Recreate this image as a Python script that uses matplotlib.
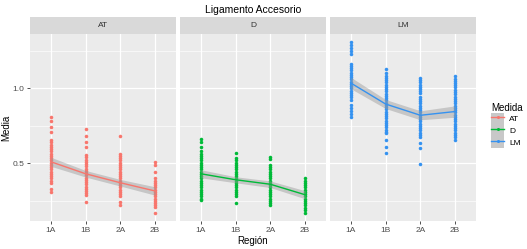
import matplotlib
matplotlib.use("Agg")
import matplotlib.pyplot as plt
from matplotlib.lines import Line2D
from matplotlib.patches import Patch
from matplotlib.legend_handler import HandlerTuple

plt.rcParams['font.family'] = ['Liberation Sans', 'DejaVu Sans']

# data
regions = ['1A', '1B', '2A', '2B']
medidas = ['AT', 'D', 'LM']
colors = ['#F8766D', '#00BA38', '#3592F0']

at_points = [
    [0.81, 0.78, 0.74, 0.71, 0.655, 0.64, 0.625, 0.61, 0.595, 0.58, 0.565, 0.55, 0.535, 0.52,
     0.505, 0.49, 0.475, 0.46, 0.445, 0.43, 0.415, 0.40, 0.385, 0.37, 0.33, 0.31],
    [0.73, 0.68, 0.645, 0.61, 0.555, 0.54, 0.525, 0.51, 0.495, 0.48, 0.465, 0.45, 0.435, 0.42,
     0.405, 0.39, 0.375, 0.36, 0.345, 0.33, 0.315, 0.30, 0.29, 0.245],
    [0.68, 0.565, 0.55, 0.535, 0.52, 0.505, 0.49, 0.475, 0.46, 0.445, 0.43, 0.415, 0.40, 0.385,
     0.37, 0.355, 0.34, 0.325, 0.31, 0.295, 0.28, 0.245, 0.22],
    [0.51, 0.49, 0.445, 0.40, 0.385, 0.37, 0.355, 0.34, 0.325, 0.31, 0.295, 0.28, 0.265, 0.25,
     0.235, 0.22, 0.21, 0.17],
]
d_points = [
    [0.665, 0.645, 0.61, 0.58, 0.565, 0.55, 0.535, 0.52, 0.505, 0.49, 0.475, 0.46, 0.445, 0.43,
     0.415, 0.40, 0.385, 0.37, 0.355, 0.34, 0.325, 0.31, 0.295, 0.28, 0.265, 0.255],
    [0.57, 0.535, 0.52, 0.505, 0.49, 0.475, 0.46, 0.445, 0.43, 0.415, 0.40, 0.385, 0.37, 0.355,
     0.34, 0.325, 0.31, 0.295, 0.28, 0.235],
    [0.545, 0.53, 0.49, 0.475, 0.46, 0.445, 0.43, 0.415, 0.40, 0.385, 0.37, 0.355, 0.34, 0.325,
     0.31, 0.295, 0.28, 0.265, 0.25, 0.235, 0.22],
    [0.40, 0.385, 0.37, 0.355, 0.34, 0.325, 0.31, 0.295, 0.28, 0.265, 0.25, 0.235, 0.22, 0.205,
     0.19, 0.17],
]
lm_points = [
    [1.31, 1.29, 1.27, 1.25, 1.23, 1.165, 1.15, 1.135, 1.12, 1.105, 1.09, 1.075, 1.06, 1.045,
     1.03, 1.015, 1.0, 0.985, 0.97, 0.955, 0.94, 0.92, 0.89, 0.87, 0.85, 0.83, 0.81],
    [1.13, 1.10, 1.085, 1.07, 1.055, 1.04, 1.025, 1.01, 0.995, 0.98, 0.965, 0.95, 0.935, 0.92,
     0.905, 0.89, 0.875, 0.86, 0.845, 0.83, 0.815, 0.80, 0.785, 0.77, 0.755, 0.74, 0.725, 0.71,
     0.70, 0.655, 0.61, 0.567],
    [1.07, 1.055, 1.04, 1.025, 1.01, 0.995, 0.98, 0.967, 0.944, 0.93, 0.915, 0.90, 0.885, 0.87,
     0.855, 0.84, 0.825, 0.81, 0.795, 0.78, 0.765, 0.75, 0.735, 0.72, 0.705, 0.69, 0.678, 0.633,
     0.60, 0.493],
    [1.08, 1.065, 1.05, 1.035, 1.02, 1.01, 0.99, 0.975, 0.96, 0.945, 0.93, 0.915, 0.90, 0.885,
     0.87, 0.855, 0.84, 0.825, 0.81, 0.795, 0.78, 0.765, 0.75, 0.735, 0.72, 0.705, 0.69, 0.675,
     0.655],
]

# smooth fit and half-width of confidence band at each region
at_fit = [0.51, 0.43, 0.37, 0.315]
at_se = [0.03, 0.022, 0.022, 0.028]
d_fit = [0.43, 0.39, 0.36, 0.29]
d_se = [0.027, 0.02, 0.022, 0.027]
lm_fit = [1.035, 0.895, 0.82, 0.845]
lm_se = [0.038, 0.03, 0.03, 0.038]

all_points = [at_points, d_points, lm_points]
all_fit = [at_fit, d_fit, lm_fit]
all_se = [at_se, d_se, lm_se]

W, H = 527, 249
fig = plt.figure(figsize=(W / 100, H / 100), dpi=100)
fig.patch.set_facecolor('white')

panel_left = [30, 180, 330]
panel_w = 146
y_top, y_bot = 34, 221
strip_top = 17

x = list(range(len(regions)))
for i, name in enumerate(medidas):
    l = panel_left[i]
    ax = fig.add_axes([l / W, (H - y_bot) / H, panel_w / W, (y_bot - y_top) / H])
    ax.set_facecolor('#EBEBEB')
    for s in ax.spines.values():
        s.set_visible(False)
    ax.set_xlim(-0.6, 3.6)
    ax.set_ylim(0.115, 1.362)
    ax.set_yticks([0.5, 1.0])
    ax.set_yticks([0.25, 0.75, 1.25], minor=True)
    ax.set_xticks(x)
    ax.set_xticklabels(regions)
    ax.grid(which='major', color='white', linewidth=0.9)
    ax.grid(which='minor', axis='y', color='white', linewidth=0.45)
    ax.set_axisbelow(True)
    ax.tick_params(which='major', length=2, width=0.6, color='#333333',
                   labelsize=6, labelcolor='#4D4D4D', pad=2)
    ax.tick_params(which='minor', length=0)
    if i == 0:
        ax.set_yticklabels(['0.5', '1.0'])
        ax.set_ylabel('Media', fontsize=7, labelpad=1)
    else:
        ax.tick_params(axis='y', which='major', length=0, labelleft=False)
    if i == 1:
        ax.set_xlabel('Región', fontsize=7, labelpad=1.5)

    pts = all_points[i]
    for j, vals in enumerate(pts):
        ax.scatter([x[j]] * len(vals), vals, s=6.5, color=colors[i], linewidths=0, zorder=2)
    fit = all_fit[i]
    se = all_se[i]
    lo = [f - s for f, s in zip(fit, se)]
    hi = [f + s for f, s in zip(fit, se)]
    ax.fill_between(x, lo, hi, color='#999999', alpha=0.45, linewidth=0, zorder=3)
    ax.plot(x, fit, color=colors[i], linewidth=1.0, zorder=4)

    # facet strip
    sax = fig.add_axes([l / W, (H - y_top) / H, panel_w / W, (y_top - strip_top) / H])
    sax.set_facecolor('#D9D9D9')
    sax.set_xticks([])
    sax.set_yticks([])
    for s in sax.spines.values():
        s.set_visible(False)
    sax.text(0.5, 0.5, name, ha='center', va='center', fontsize=6, color='#333333',
             transform=sax.transAxes)

fig.text(253 / W, 1 - 10 / H, 'Ligamento Accesorio', ha='center', va='center', fontsize=7.5)

handles = [(Patch(facecolor='#C8C8C8', edgecolor='none'),
            Line2D([], [], color=c, linewidth=1.0, marker='o', markersize=2.2, markeredgewidth=0))
           for c in colors]
leg = fig.legend(handles, medidas, loc='upper left', bbox_to_anchor=(485 / W, 1 - 97 / H),
                 title='Medida', fontsize=6, title_fontsize=7, frameon=False,
                 handler_map={tuple: HandlerTuple(ndivide=1, pad=0)},
                 handlelength=1.6, handleheight=1.8, labelspacing=0.0, handletextpad=0.6,
                 borderpad=0.2)
leg._legend_box.align = 'left'

fig.savefig('out.png', dpi=100)
